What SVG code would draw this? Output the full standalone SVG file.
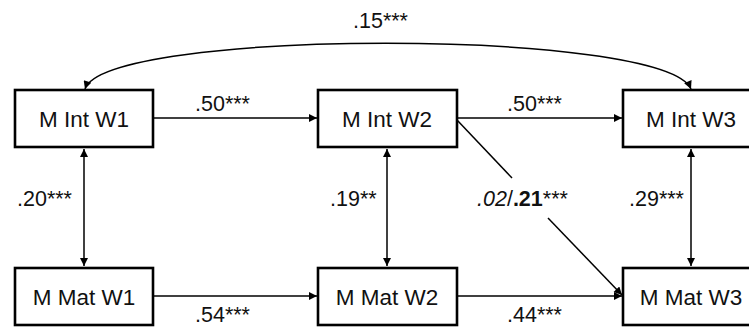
<svg xmlns="http://www.w3.org/2000/svg" width="749" height="327" viewBox="0 0 749 327">
<defs>
<marker id="ah" viewBox="0 0 10 10" refX="10" refY="5" markerWidth="9" markerHeight="8" markerUnits="userSpaceOnUse" orient="auto-start-reverse">
<path d="M0,0 L10,5 L0,10 z" fill="#000"/>
</marker>
<style>
.box{fill:#fff;stroke:#000;stroke-width:2.6}
.nt{font-family:"Liberation Sans",Arial,sans-serif;font-size:22.5px;fill:#111;text-anchor:middle}
.lb{font-family:"Liberation Sans",Arial,sans-serif;font-size:21.5px;fill:#111}
.c{fill:none;stroke:#000;stroke-width:1.5}
</style>
</defs>
<rect width="749" height="327" fill="#fff"/>
<g id="connectors">
<path class="c" d="M85 89 C105 28, 665 28, 691 89" marker-start="url(#ah)" marker-end="url(#ah)"/>
<line class="c" x1="154" y1="118" x2="317" y2="118" marker-end="url(#ah)"/>
<line class="c" x1="458" y1="118" x2="622" y2="118" marker-end="url(#ah)"/>
<line class="c" x1="154" y1="296" x2="317" y2="296" marker-end="url(#ah)"/>
<line class="c" x1="458" y1="296" x2="622" y2="296" marker-end="url(#ah)"/>
<line class="c" x1="84" y1="149" x2="84" y2="266" marker-start="url(#ah)" marker-end="url(#ah)"/>
<line class="c" x1="387" y1="149" x2="387" y2="266" marker-start="url(#ah)" marker-end="url(#ah)"/>
<line class="c" x1="691" y1="149" x2="691" y2="266" marker-start="url(#ah)" marker-end="url(#ah)"/>
<line class="c" x1="457" y1="120" x2="512" y2="178"/>
<line class="c" x1="548" y1="218" x2="622" y2="295" marker-end="url(#ah)"/>
</g>
<g id="mint1"><rect class="box" x="15" y="90" width="138" height="57"/><text class="nt" x="84" y="127">M Int W1</text></g>
<g id="mint2"><rect class="box" x="318" y="90" width="139" height="57"/><text class="nt" x="387" y="127">M Int W2</text></g>
<g id="mint3"><rect class="box" x="623" y="90" width="138" height="57"/><text class="nt" x="691" y="127">M Int W3</text></g>
<g id="mmat1"><rect class="box" x="15" y="268" width="138" height="57"/><text class="nt" x="84" y="305">M Mat W1</text></g>
<g id="mmat2"><rect class="box" x="318" y="268" width="139" height="57"/><text class="nt" x="387" y="305">M Mat W2</text></g>
<g id="mmat3"><rect class="box" x="623" y="268" width="138" height="57"/><text class="nt" x="691" y="305">M Mat W3</text></g>
<g id="labels">
<text class="lb" x="353" y="28">.15***</text>
<text class="lb" x="195" y="111">.50***</text>
<text class="lb" x="507" y="111">.50***</text>
<text class="lb" x="17" y="206">.20***</text>
<text class="lb" x="330" y="206">.19**</text>
<text class="lb" x="477" y="206"><tspan font-style="italic">.02</tspan>/<tspan font-weight="bold">.21</tspan>***</text>
<text class="lb" x="629" y="206">.29***</text>
<text class="lb" x="195" y="322">.54***</text>
<text class="lb" x="507" y="322">.44***</text>
</g>
</svg>
